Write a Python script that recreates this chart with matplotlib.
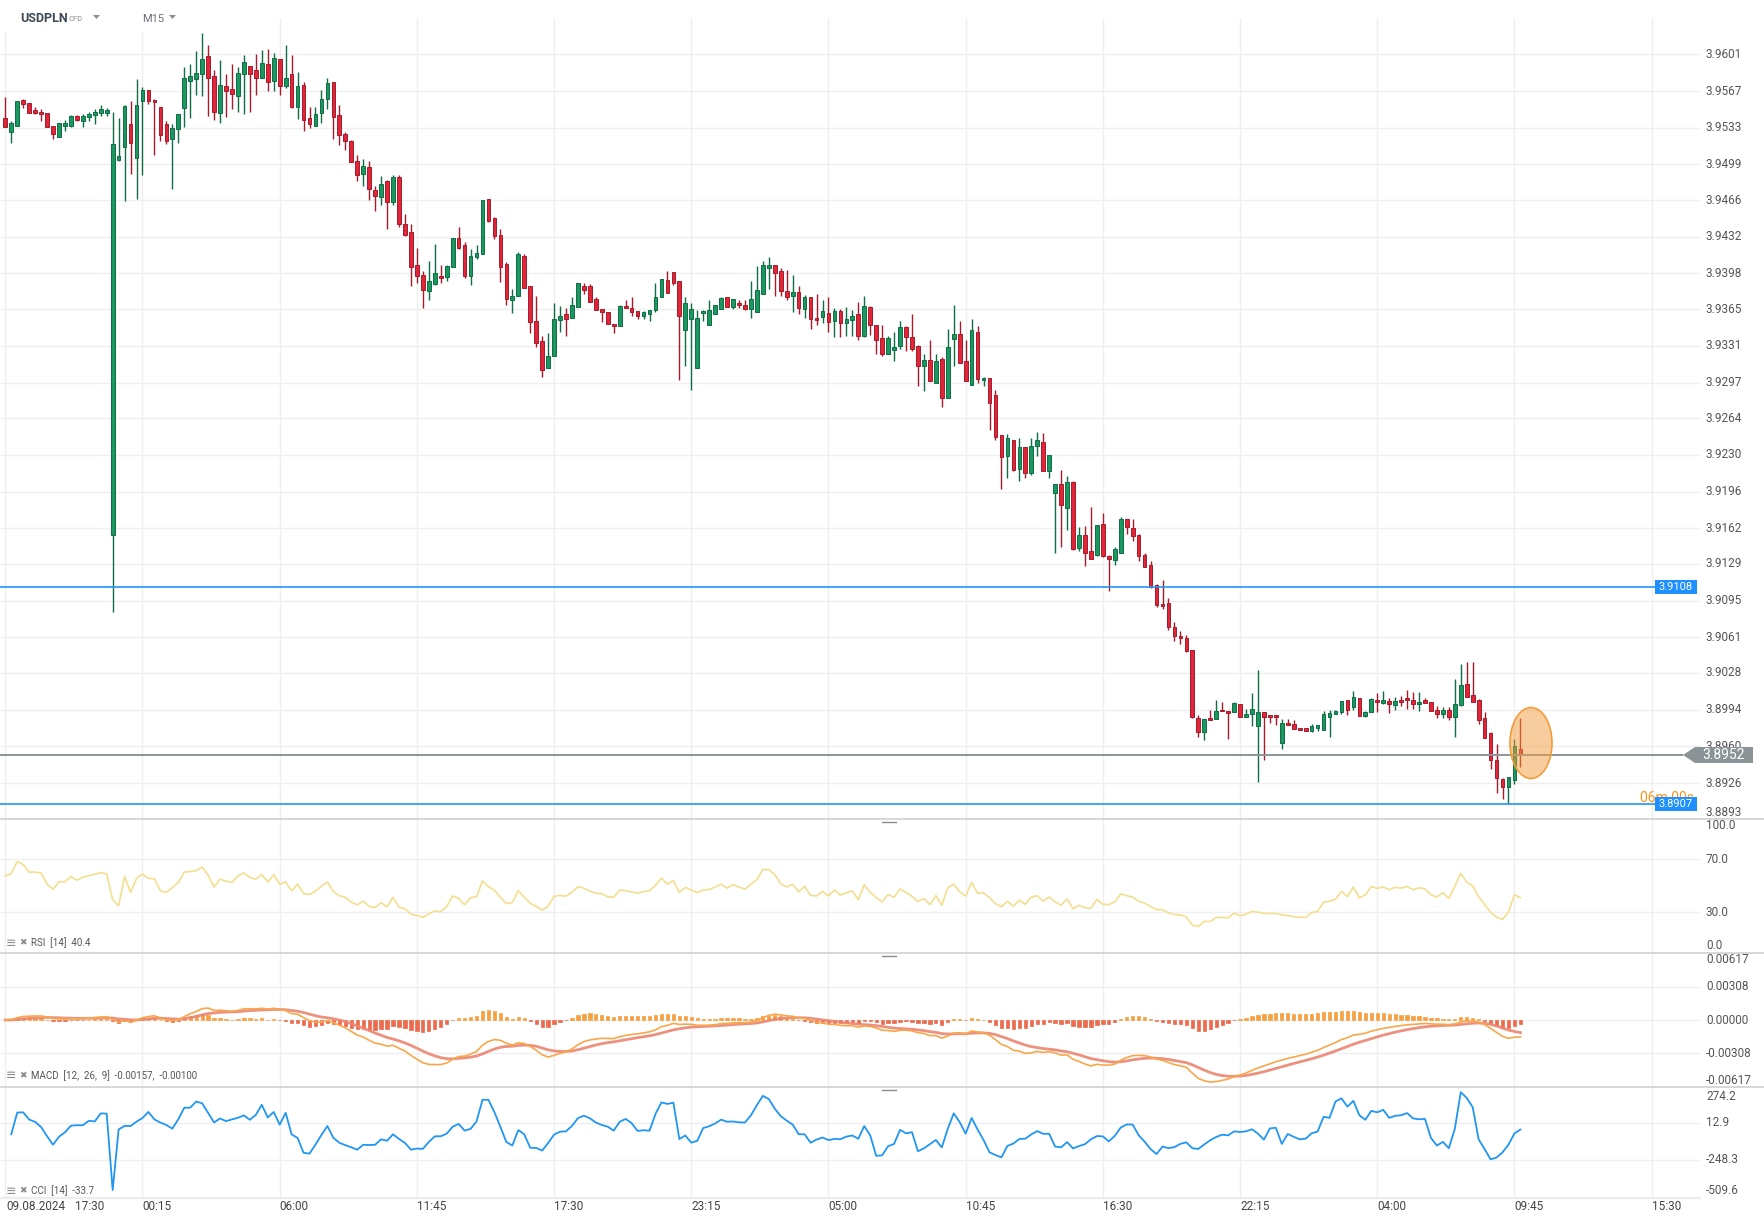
import numpy as np
import pandas as pd
import matplotlib
matplotlib.use("Agg")
import matplotlib.pyplot as plt
from matplotlib.patches import Rectangle, Ellipse, Polygon
from matplotlib.transforms import blended_transform_factory

plt.rcParams['font.family'] = ['Roboto', 'DejaVu Sans']

# USDPLN M15 candles (first bar 09.08.2024 17:30)
opens = [
    3.9542, 3.9529, 3.9535, 3.9559, 3.9556, 3.9549, 3.9548, 3.9547, 3.9535, 3.9524,
    3.9535, 3.9535, 3.9544, 3.9539, 3.9543, 3.9545, 3.9547, 3.9547, 3.9156, 3.9503,
    3.9515, 3.9536, 3.9505, 3.9558, 3.9568, 3.9559, 3.9552, 3.9536, 3.9523, 3.9532,
    3.9551, 3.9576, 3.9578, 3.9583, 3.9599, 3.9581, 3.9547, 3.9572, 3.9569, 3.9562,
    3.9583, 3.9590, 3.9586, 3.9579, 3.9592, 3.9576, 3.9597, 3.9572, 3.9583, 3.9552,
    3.9573, 3.9542, 3.9535, 3.9547, 3.9560, 3.9575, 3.9545, 3.9527, 3.9521, 3.9502,
    3.9490, 3.9497, 3.9475, 3.9469, 3.9484, 3.9464, 3.9487, 3.9444, 3.9436, 3.9406,
    3.9397, 3.9382, 3.9388, 3.9396, 3.9395, 3.9404, 3.9431, 3.9424, 3.9396, 3.9413,
    3.9416, 3.9467, 3.9449, 3.9434, 3.9407, 3.9373, 3.9377, 3.9414, 3.9386, 3.9354,
    3.9335, 3.9310, 3.9322, 3.9355, 3.9360, 3.9357, 3.9367, 3.9386, 3.9386, 3.9374,
    3.9365, 3.9362, 3.9351, 3.9349, 3.9368, 3.9366, 3.9363, 3.9359, 3.9360, 3.9364,
    3.9376, 3.9392, 3.9399, 3.9391, 3.9346, 3.9356, 3.9310, 3.9361, 3.9350, 3.9360,
    3.9365, 3.9376, 3.9367, 3.9371, 3.9369, 3.9365, 3.9362, 3.9379, 3.9403, 3.9406,
    3.9400, 3.9382, 3.9377, 3.9381, 3.9365, 3.9376, 3.9357, 3.9358, 3.9361, 3.9354,
    3.9363, 3.9352, 3.9355, 3.9360, 3.9340, 3.9367, 3.9350, 3.9338, 3.9323, 3.9327,
    3.9331, 3.9348, 3.9339, 3.9331, 3.9312, 3.9318, 3.9297, 3.9319, 3.9283, 3.9337,
    3.9342, 3.9317, 3.9295, 3.9344, 3.9299, 3.9301, 3.9285, 3.9248, 3.9229, 3.9244,
    3.9217, 3.9237, 3.9213, 3.9238, 3.9242, 3.9215, 3.9195, 3.9203, 3.9181, 3.9205,
    3.9144, 3.9156, 3.9141, 3.9137, 3.9166, 3.9136, 3.9133, 3.9139, 3.9171, 3.9162,
    3.9156, 3.9137, 3.9128, 3.9109, 3.9092, 3.9093, 3.9071, 3.9062, 3.9060, 3.9049,
    3.8986, 3.8973, 3.8986, 3.8985, 3.8994, 3.8993, 3.8992, 3.8999, 3.8987, 3.8990,
    3.8979, 3.8992, 3.8989, 3.8989, 3.8963, 3.8982, 3.8981, 3.8977, 3.8977, 3.8974,
    3.8977, 3.8975, 3.8987, 3.8990, 3.8992, 3.9003, 3.8996, 3.9005, 3.8988, 3.8992,
    3.9003, 3.9000, 3.9002, 3.8998, 3.9003, 3.9005, 3.9003, 3.8999, 3.9003, 3.9001,
    3.8994, 3.8990, 3.8994, 3.8987, 3.8998, 3.9018, 3.9008, 3.9003, 3.8986, 3.8972,
    3.8947, 3.8930, 3.8922, 3.8929, 3.8958,
]
highs = [
    3.9561, 3.9539, 3.9558, 3.9560, 3.9556, 3.9552, 3.9550, 3.9547, 3.9535, 3.9537,
    3.9540, 3.9545, 3.9545, 3.9546, 3.9548, 3.9550, 3.9554, 3.9551, 3.9548, 3.9542,
    3.9554, 3.9558, 3.9578, 3.9571, 3.9568, 3.9560, 3.9552, 3.9539, 3.9536, 3.9546,
    3.9589, 3.9592, 3.9604, 3.9621, 3.9610, 3.9586, 3.9596, 3.9583, 3.9592, 3.9589,
    3.9600, 3.9590, 3.9601, 3.9605, 3.9606, 3.9602, 3.9597, 3.9610, 3.9600, 3.9585,
    3.9575, 3.9552, 3.9552, 3.9568, 3.9579, 3.9575, 3.9554, 3.9529, 3.9522, 3.9508,
    3.9504, 3.9502, 3.9479, 3.9488, 3.9485, 3.9489, 3.9489, 3.9453, 3.9444, 3.9422,
    3.9400, 3.9410, 3.9425, 3.9406, 3.9406, 3.9431, 3.9441, 3.9427, 3.9421, 3.9424,
    3.9466, 3.9467, 3.9450, 3.9439, 3.9409, 3.9384, 3.9418, 3.9416, 3.9386, 3.9377,
    3.9340, 3.9343, 3.9371, 3.9368, 3.9366, 3.9376, 3.9389, 3.9389, 3.9388, 3.9376,
    3.9365, 3.9362, 3.9351, 3.9369, 3.9373, 3.9376, 3.9363, 3.9363, 3.9364, 3.9389,
    3.9393, 3.9400, 3.9399, 3.9391, 3.9376, 3.9371, 3.9364, 3.9364, 3.9373, 3.9369,
    3.9376, 3.9376, 3.9374, 3.9373, 3.9373, 3.9391, 3.9405, 3.9410, 3.9413, 3.9406,
    3.9403, 3.9401, 3.9397, 3.9386, 3.9378, 3.9376, 3.9379, 3.9373, 3.9376, 3.9366,
    3.9365, 3.9367, 3.9364, 3.9372, 3.9377, 3.9368, 3.9350, 3.9350, 3.9340, 3.9344,
    3.9354, 3.9349, 3.9360, 3.9332, 3.9323, 3.9336, 3.9323, 3.9321, 3.9347, 3.9369,
    3.9354, 3.9336, 3.9356, 3.9349, 3.9302, 3.9301, 3.9290, 3.9248, 3.9249, 3.9244,
    3.9246, 3.9237, 3.9246, 3.9251, 3.9250, 3.9230, 3.9203, 3.9216, 3.9210, 3.9206,
    3.9163, 3.9164, 3.9182, 3.9165, 3.9176, 3.9137, 3.9145, 3.9172, 3.9171, 3.9171,
    3.9157, 3.9139, 3.9132, 3.9110, 3.9114, 3.9097, 3.9075, 3.9067, 3.9063, 3.9049,
    3.8989, 3.8985, 3.8994, 3.9003, 3.9001, 3.8993, 3.9001, 3.8999, 3.8995, 3.9009,
    3.9031, 3.8992, 3.8989, 3.8989, 3.8985, 3.8985, 3.8984, 3.8977, 3.8977, 3.8981,
    3.8980, 3.8993, 3.8994, 3.8994, 3.9002, 3.9003, 3.9011, 3.9005, 3.8993, 3.9005,
    3.9009, 3.9011, 3.9005, 3.9006, 3.9007, 3.9012, 3.9010, 3.9010, 3.9005, 3.9001,
    3.8997, 3.8996, 3.8996, 3.9022, 3.9036, 3.9038, 3.9038, 3.9004, 3.8992, 3.8973,
    3.8962, 3.8931, 3.8932, 3.8967, 3.8986,
]
lows = [
    3.9534, 3.9519, 3.9535, 3.9551, 3.9547, 3.9546, 3.9539, 3.9534, 3.9523, 3.9524,
    3.9530, 3.9534, 3.9539, 3.9534, 3.9539, 3.9536, 3.9544, 3.9544, 3.9084, 3.9502,
    3.9465, 3.9490, 3.9467, 3.9489, 3.9555, 3.9508, 3.9521, 3.9518, 3.9476, 3.9519,
    3.9534, 3.9542, 3.9563, 3.9562, 3.9544, 3.9540, 3.9537, 3.9543, 3.9550, 3.9548,
    3.9546, 3.9548, 3.9563, 3.9579, 3.9567, 3.9567, 3.9563, 3.9570, 3.9551, 3.9541,
    3.9530, 3.9533, 3.9535, 3.9537, 3.9550, 3.9523, 3.9517, 3.9512, 3.9501, 3.9484,
    3.9479, 3.9466, 3.9456, 3.9461, 3.9439, 3.9461, 3.9441, 3.9433, 3.9386, 3.9389,
    3.9366, 3.9373, 3.9387, 3.9389, 3.9391, 3.9404, 3.9421, 3.9394, 3.9387, 3.9411,
    3.9416, 3.9446, 3.9430, 3.9390, 3.9369, 3.9361, 3.9377, 3.9385, 3.9343, 3.9330,
    3.9302, 3.9310, 3.9322, 3.9344, 3.9340, 3.9357, 3.9367, 3.9379, 3.9372, 3.9364,
    3.9353, 3.9351, 3.9343, 3.9349, 3.9366, 3.9359, 3.9356, 3.9356, 3.9354, 3.9362,
    3.9376, 3.9380, 3.9387, 3.9299, 3.9312, 3.9290, 3.9310, 3.9354, 3.9350, 3.9360,
    3.9365, 3.9367, 3.9365, 3.9366, 3.9364, 3.9357, 3.9362, 3.9379, 3.9384, 3.9377,
    3.9377, 3.9373, 3.9362, 3.9360, 3.9357, 3.9347, 3.9350, 3.9352, 3.9344, 3.9339,
    3.9339, 3.9340, 3.9340, 3.9336, 3.9339, 3.9341, 3.9323, 3.9322, 3.9323, 3.9317,
    3.9328, 3.9326, 3.9326, 3.9294, 3.9289, 3.9298, 3.9297, 3.9274, 3.9283, 3.9312,
    3.9315, 3.9298, 3.9295, 3.9297, 3.9294, 3.9253, 3.9244, 3.9198, 3.9209, 3.9215,
    3.9206, 3.9209, 3.9211, 3.9229, 3.9215, 3.9209, 3.9139, 3.9145, 3.9160, 3.9142,
    3.9141, 3.9127, 3.9134, 3.9136, 3.9135, 3.9104, 3.9128, 3.9139, 3.9157, 3.9150,
    3.9132, 3.9126, 3.9107, 3.9089, 3.9087, 3.9068, 3.9058, 3.9055, 3.9047, 3.8986,
    3.8969, 3.8966, 3.8984, 3.8985, 3.8993, 3.8967, 3.8992, 3.8987, 3.8987, 3.8979,
    3.8927, 3.8947, 3.8982, 3.8980, 3.8958, 3.8980, 3.8976, 3.8975, 3.8974, 3.8973,
    3.8974, 3.8975, 3.8969, 3.8990, 3.8990, 3.8989, 3.8994, 3.8988, 3.8987, 3.8992,
    3.8992, 3.8999, 3.8991, 3.8994, 3.8997, 3.8995, 3.8995, 3.8993, 3.9000, 3.8993,
    3.8986, 3.8986, 3.8984, 3.8969, 3.8997, 3.9006, 3.9001, 3.8981, 3.8968, 3.8939,
    3.8917, 3.8911, 3.8907, 3.8925, 3.8941,
]
closes = [
    3.9534, 3.9537, 3.9558, 3.9555, 3.9547, 3.9547, 3.9546, 3.9534, 3.9527, 3.9537,
    3.9537, 3.9544, 3.9540, 3.9544, 3.9546, 3.9548, 3.9550, 3.9549, 3.9518, 3.9507,
    3.9553, 3.9519, 3.9554, 3.9568, 3.9558, 3.9557, 3.9526, 3.9521, 3.9533, 3.9546,
    3.9579, 3.9581, 3.9584, 3.9597, 3.9579, 3.9548, 3.9573, 3.9567, 3.9564, 3.9584,
    3.9594, 3.9583, 3.9579, 3.9593, 3.9575, 3.9598, 3.9572, 3.9579, 3.9552, 3.9572,
    3.9540, 3.9536, 3.9546, 3.9560, 3.9574, 3.9543, 3.9526, 3.9521, 3.9501, 3.9489,
    3.9498, 3.9476, 3.9470, 3.9481, 3.9464, 3.9487, 3.9444, 3.9434, 3.9404, 3.9396,
    3.9383, 3.9391, 3.9398, 3.9394, 3.9405, 3.9431, 3.9422, 3.9396, 3.9414, 3.9417,
    3.9466, 3.9447, 3.9433, 3.9404, 3.9374, 3.9377, 3.9416, 3.9385, 3.9353, 3.9334,
    3.9309, 3.9322, 3.9356, 3.9359, 3.9356, 3.9369, 3.9389, 3.9383, 3.9372, 3.9364,
    3.9362, 3.9351, 3.9349, 3.9368, 3.9366, 3.9362, 3.9359, 3.9362, 3.9364, 3.9376,
    3.9393, 3.9380, 3.9389, 3.9359, 3.9371, 3.9365, 3.9357, 3.9363, 3.9364, 3.9369,
    3.9375, 3.9367, 3.9374, 3.9369, 3.9365, 3.9374, 3.9383, 3.9406, 3.9406, 3.9398,
    3.9382, 3.9376, 3.9381, 3.9366, 3.9376, 3.9356, 3.9355, 3.9363, 3.9353, 3.9363,
    3.9352, 3.9356, 3.9359, 3.9340, 3.9368, 3.9350, 3.9336, 3.9323, 3.9338, 3.9330,
    3.9348, 3.9339, 3.9328, 3.9312, 3.9318, 3.9298, 3.9317, 3.9283, 3.9330, 3.9342,
    3.9315, 3.9298, 3.9346, 3.9300, 3.9301, 3.9278, 3.9247, 3.9228, 3.9246, 3.9216,
    3.9237, 3.9213, 3.9238, 3.9244, 3.9215, 3.9230, 3.9203, 3.9184, 3.9205, 3.9143,
    3.9156, 3.9139, 3.9134, 3.9165, 3.9136, 3.9134, 3.9143, 3.9171, 3.9163, 3.9155,
    3.9136, 3.9126, 3.9108, 3.9091, 3.9090, 3.9071, 3.9062, 3.9060, 3.9048, 3.8987,
    3.8973, 3.8985, 3.8984, 3.8993, 3.8993, 3.8991, 3.9000, 3.8987, 3.8990, 3.8995,
    3.8992, 3.8987, 3.8987, 3.8987, 3.8982, 3.8980, 3.8976, 3.8975, 3.8974, 3.8979,
    3.8980, 3.8990, 3.8991, 3.8993, 3.9002, 3.8994, 3.9006, 3.8988, 3.8992, 3.9004,
    3.9001, 3.9003, 3.8999, 3.9002, 3.9001, 3.9003, 3.8999, 3.9001, 3.9000, 3.8993,
    3.8990, 3.8994, 3.8987, 3.8999, 3.9017, 3.9006, 3.9001, 3.8984, 3.8968, 3.8947,
    3.8931, 3.8922, 3.8932, 3.8960, 3.8952,
]

time_labels = ["00:15", "06:00", "11:45", "17:30", "23:15", "05:00",
               "10:45", "16:30", "22:15", "04:00", "09:45", "15:30"]
bars_per_label = 23
first_label_bar = 23

price_ticks = ["3.9601", "3.9567", "3.9533", "3.9499", "3.9466", "3.9432",
               "3.9398", "3.9365", "3.9331", "3.9297", "3.9264", "3.9230",
               "3.9196", "3.9162", "3.9129", "3.9095", "3.9061", "3.9028",
               "3.8994", "3.8960", "3.8926", "3.8893"]
rsi_ticks = ["100.0", "70.0", "30.0", "0.0"]
macd_ticks = ["0.00617", "0.00308", "0.00000", "-0.00308", "-0.00617"]
cci_ticks = ["274.2", "12.9", "-248.3", "-509.6"]

level_lines = [3.9108, 3.8907]
last_price = 3.8952

# ---- indicators computed from the candles ----
o = pd.Series(opens)
h = pd.Series(highs)
l = pd.Series(lows)
c = pd.Series(closes)
n = len(c)
idx = np.arange(n)

delta = c.diff()
gain = delta.clip(lower=0)
loss = (-delta).clip(lower=0)
gain.iloc[0] = gain.iloc[1:15].mean()
loss.iloc[0] = loss.iloc[1:15].mean()
ag = gain.ewm(alpha=1 / 14, adjust=False).mean()
al = loss.ewm(alpha=1 / 14, adjust=False).mean()
rsi = 100 - 100 / (1 + ag / al)

ema12 = c.ewm(span=12, adjust=False).mean()
ema26 = c.ewm(span=26, adjust=False).mean()
macd = ema12 - ema26
signal = macd.ewm(span=9, adjust=False).mean()
hist = macd - signal

tp = (h + l + c) / 3
sma = tp.rolling(14, min_periods=2).mean()
md = tp.rolling(14, min_periods=2).apply(lambda v: np.mean(np.abs(v - v.mean())), raw=True)
cci = (tp - sma) / (0.015 * md)

# ---- layout (pixel based) ----
W, H = 1765, 1224
X0, DX = 5.3, 5.965
fig = plt.figure(figsize=(W / 100, H / 100), dpi=100)
fig.patch.set_facecolor("white")


def fx(x):
    return x / W


def fy(y):
    return 1 - y / H


def bar_of(xpx):
    return (xpx - X0) / DX


def panel(top, bottom, ylim):
    ax = fig.add_axes([0, fy(bottom), 1, (bottom - top) / H])
    ax.set_axis_off()
    ax.set_xlim(bar_of(0), bar_of(W))
    ax.set_ylim(*ylim)
    return ax


PX_PER_PRICE = 764.4 / 0.0708
ax_p = panel(18, 819, (3.9601 - (819 - 54.3) / PX_PER_PRICE, 3.9601 + (54.3 - 18) / PX_PER_PRICE))
ax_r = panel(819, 953, (-0.94, 100.2))
ax_m = panel(953, 1087, (-0.0062, 0.0062))
ax_c = panel(1087, 1198, (-516.7, 267.1))

grid_c = "#efefef"
x_grid_end = bar_of(1700)
for ax in (ax_p, ax_r, ax_m, ax_c):
    ax.axvline(0, color=grid_c, lw=1, zorder=0)
    for k in range(len(time_labels)):
        ax.axvline(first_label_bar + k * bars_per_label, color=grid_c, lw=1, zorder=0)

ax_p.hlines([float(t) for t in price_ticks], bar_of(0), x_grid_end, color=grid_c, lw=1, zorder=0)
ax_r.hlines([70, 30], bar_of(0), x_grid_end, color=grid_c, lw=1, zorder=0)
ax_m.hlines([0.00308, 0, -0.00308], bar_of(0), x_grid_end, color=grid_c, lw=1, zorder=0)
ax_c.hlines([12.9, -248.3, -509.6], bar_of(0), x_grid_end, color=grid_c, lw=1, zorder=0)

# header area blank box
fig.patches.append(Rectangle((fx(0), fy(32)), fx(200), 14 / H, transform=fig.transFigure,
                             facecolor="white", edgecolor="none", zorder=1))

# ---- candles ----
up = c >= o
g_body, g_edge = "#1b9760", "#0f6e44"
r_body, r_edge = "#e2263a", "#a61b2b"
wick_cols = np.where(up, g_edge, r_edge)
ax_p.vlines(idx, l, h, colors=wick_cols, lw=1.0, zorder=2)
body_lo = np.minimum(o, c)
body_h = np.maximum(np.abs(c - o), 0.00008)
ax_p.bar(idx, body_h, bottom=body_lo, width=0.62,
         color=np.where(up, g_body, r_body), edgecolor=wick_cols, linewidth=0.7, zorder=3)

# horizontal levels
for lv in level_lines:
    ax_p.hlines(lv, bar_of(0), bar_of(1655), color="#2196f3", lw=1.2, zorder=4)
ax_p.hlines(last_price, bar_of(0), bar_of(1683), color="#8d9598", lw=1.4, zorder=4)


def price_px(p):
    lo, hi = ax_p.get_ylim()
    return 18 + (hi - p) / (hi - lo) * (819 - 18)


# highlight ellipse around the last candles
fig.patches.append(Ellipse((fx(1531), fy(743)), 42 / W, 71 / H, transform=fig.transFigure,
                           facecolor="#f39c3c", alpha=0.5, edgecolor="none", zorder=5))
fig.patches.append(Ellipse((fx(1531), fy(743)), 42 / W, 71 / H, transform=fig.transFigure,
                           facecolor="none", edgecolor="#f39c3c", lw=1.2, zorder=5))

# ---- right axis labels ----
lab_c = "#555555"
tx = 1706 / W


def axis_labels(ax, labels, top_px=None):
    tr = blended_transform_factory(fig.transFigure, ax.transData)
    for k, s in enumerate(labels):
        if ax is not ax_p and k == 0:
            if top_px is not None:
                fig.text(tx, fy(top_px), s, ha="left", va="top", fontsize=8.5, color=lab_c)
                continue
            va = "top"
        elif k == len(labels) - 1:
            va = "bottom"
        else:
            va = "center"
        ax.text(tx, float(s), s, transform=tr, ha="left", va=va, fontsize=8.5, color=lab_c,
                clip_on=False)


axis_labels(ax_p, price_ticks)
axis_labels(ax_r, rsi_ticks)
axis_labels(ax_m, macd_ticks)
axis_labels(ax_c, cci_ticks, top_px=1090)

# countdown text, mostly hidden behind the level tag
y07 = price_px(level_lines[1])
fig.text(fx(1640), fy(y07 - 6), "06m 00s", color="#f7941d", fontsize=10, ha="left", va="center",
         zorder=6)

# level tags
for lv in level_lines:
    yy = price_px(lv)
    fig.patches.append(Rectangle((fx(1655), fy(yy + 7)), 42 / W, 14 / H, transform=fig.transFigure,
                                 facecolor="#1e90ff", edgecolor="none", zorder=7))
    fig.text(fx(1676), fy(yy), f"{lv:.4f}", color="white", fontsize=8, ha="center", va="center",
             zorder=8)

yy = price_px(last_price)
fig.patches.append(Polygon([(fx(1683), fy(yy)), (fx(1695), fy(yy - 8)), (fx(1753), fy(yy - 8)),
                            (fx(1753), fy(yy + 8)), (fx(1695), fy(yy + 8))],
                           closed=True, transform=fig.transFigure, facecolor="#8a9396",
                           edgecolor="none", zorder=7))
fig.text(fx(1724), fy(yy), f"{last_price:.4f}", color="white", fontsize=10, ha="center",
         va="center", zorder=8)

# ---- indicators ----
ax_r.plot(idx, rsi, color="#f2df8f", lw=1.2, zorder=3)

ax_m.bar(idx, hist, width=0.55, color=np.where(hist >= 0, "#f7a041", "#ec6a4d"),
         edgecolor=np.where(hist >= 0, "#f7a041", "#ec6a4d"), linewidth=0.5, zorder=2)
ax_m.plot(idx, signal, color="#ec8571", lw=2.0, alpha=0.9, zorder=3)
ax_m.plot(idx, macd, color="#f8a74a", lw=1.2, zorder=4)

ax_c.plot(idx, cci, color="#2196f3", lw=1.3, zorder=3)

# panel separators
for ysep in (819, 953, 1087):
    fig.lines.append(plt.Line2D([0, 1], [fy(ysep), fy(ysep)], transform=fig.transFigure,
                                color="#d4d4d4", lw=1.3, zorder=9))
    fig.lines.append(plt.Line2D([fx(882), fx(896)], [fy(ysep + 3), fy(ysep + 3)],
                                transform=fig.transFigure, color="#8a8a8a", lw=1, zorder=9))
fig.lines.append(plt.Line2D([0, fx(1700)], [fy(1198), fy(1198)], transform=fig.transFigure,
                            color="#ececec", lw=1, zorder=9))

# indicator captions
for ycap, cap in ((943, "RSI  [14]  40.4"),
                  (1076, "MACD  [12,  26,  9]  -0.00157,  -0.00100"),
                  (1191, "CCI  [14]  -33.7")):
    fig.text(fx(6), fy(ycap), "\u2261", color="#8a8a8a", fontsize=9, ha="left", va="center",
             family="DejaVu Sans")
    fig.text(fx(19), fy(ycap), "\u2716", color="#8a8a8a", fontsize=6.5, ha="left", va="center",
             family="DejaVu Sans")
    fig.text(fx(31), fy(ycap), cap, color="#555555", fontsize=7, ha="left", va="center")

# ---- time axis ----
fig.text(fx(6), fy(1207), "09.08.2024", color="#444444", fontsize=8.5, ha="left", va="center")
fig.text(fx(75), fy(1207), "17:30", color="#444444", fontsize=8.5, ha="left", va="center")
for k, s in enumerate(time_labels):
    xb = X0 + DX * (first_label_bar + k * bars_per_label)
    fig.text(fx(xb), fy(1207), s, color="#444444", fontsize=8.5, ha="left", va="center")

# ---- header ----
fig.text(fx(20), fy(19), "USDPLN", color="#3d4a55", fontsize=9, fontweight="bold",
         ha="left", va="center", zorder=10)
fig.text(fx(69), fy(19), "CFD", color="#8a8f94", fontsize=5.5, ha="left", va="center", zorder=10)
fig.text(fx(142), fy(19), "M15", color="#6b7075", fontsize=8, ha="left", va="center", zorder=10)
for xt in (93, 169):
    fig.patches.append(Polygon([(fx(xt), fy(15)), (fx(xt + 7), fy(15)), (fx(xt + 3.5), fy(19))],
                               closed=True, transform=fig.transFigure, facecolor="#8a8f94",
                               edgecolor="none", zorder=10))

fig.savefig("out.png", dpi=100, facecolor="white")
